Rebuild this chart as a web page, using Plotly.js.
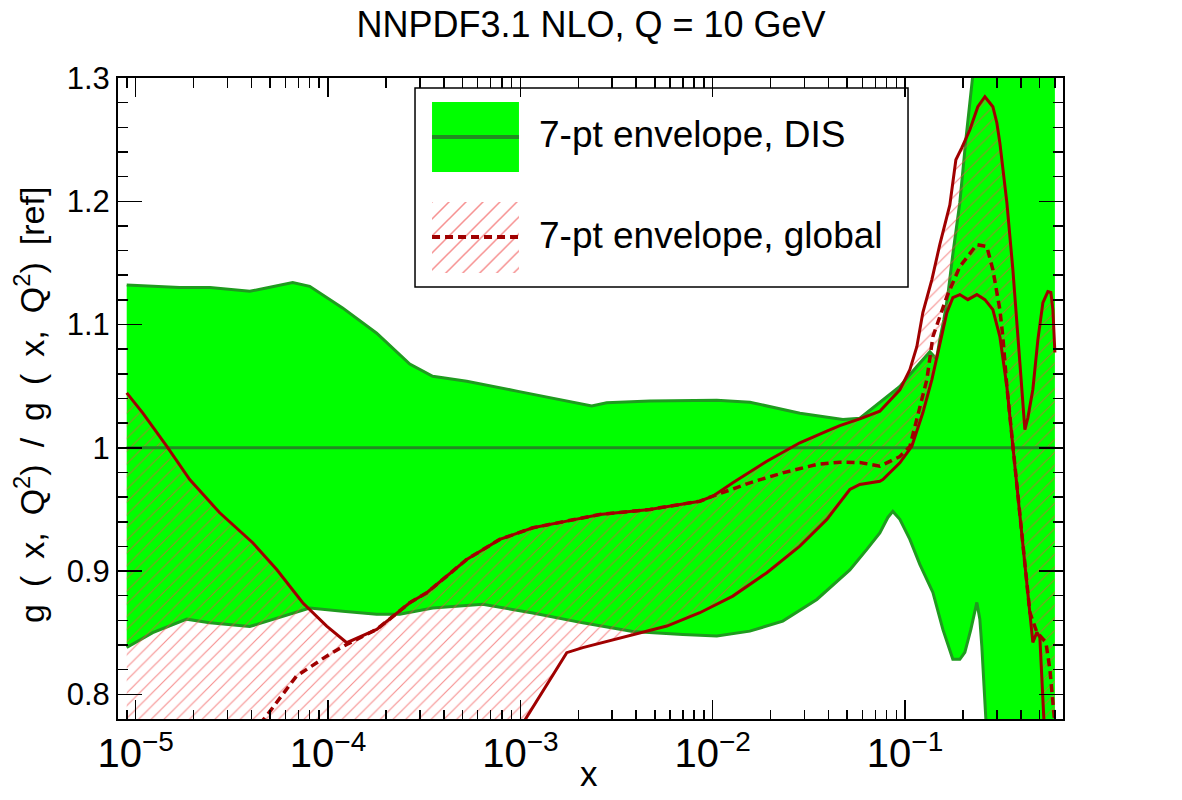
<!DOCTYPE html>
<html>
<head>
<meta charset="utf-8">
<script src="https://cdn.plot.ly/plotly-3.0.1.min.js"></script>
<style>
  html, body { margin: 0; padding: 0; background: #ffffff; }
  #chart { width: 1182px; height: 800px; }
</style>
</head>
<body>
<div id="chart"></div>
<script>
// Gluon ratio g(x,Q^2)/g_ref(x,Q^2) at Q = 10 GeV, 7-point scale-variation envelopes.

// DIS-only fit envelope: upper edge
const disHiX = [8.98e-6, 1.69e-5, 2.43e-5, 3.92e-5, 4.57e-5, 6.55e-5, 8.03e-5, 1.19e-4, 1.79e-4, 2.66e-4,
                3.50e-4, 5.26e-4, 9.58e-4, 2.35e-3, 2.81e-3, 4.71e-3, 1.05e-2, 1.56e-2, 2.84e-2, 4.75e-2,
                5.82e-2, 7.39e-2, 9.39e-2, 0.1151, 0.1345, 0.1458, 0.1516, 0.1591, 0.1669, 0.1771,
                0.1926, 0.207, 0.2224, 0.2333, 0.2447, 0.2826, 0.338, 0.42, 0.601];
const disHiY = [1.132, 1.130, 1.130, 1.127, 1.129, 1.134, 1.131, 1.1135, 1.093, 1.068,
                1.058, 1.054, 1.046, 1.034, 1.0365, 1.038, 1.0386, 1.037, 1.028, 1.023,
                1.024, 1.0365, 1.0497, 1.066, 1.078, 1.072, 1.088, 1.104, 1.124, 1.157,
                1.199, 1.25, 1.299, 1.327, 1.355, 1.42, 1.5, 1.55, 1.6];

// DIS-only fit envelope: lower edge
const disLoX = [8.98e-6, 1.226e-5, 1.842e-5, 2.425e-5, 3.916e-5, 5.813e-5, 8.03e-5, 1.192e-4, 1.791e-4, 2.359e-4,
                3.502e-4, 6.373e-4, 1.160e-3, 2.111e-3, 3.840e-3, 6.99e-3, 1.050e-2, 1.559e-2, 2.313e-2, 3.477e-2,
                5.162e-2, 6.326e-2, 7.391e-2, 8.135e-2, 8.637e-2, 9.393e-2, 0.1059, 0.1193, 0.1395, 0.1572,
                0.1771, 0.1926, 0.2045, 0.2198, 0.2361, 0.2447, 0.2506, 0.263, 0.2826, 0.35, 0.45, 0.601];
const disLoY = [0.838, 0.850, 0.861, 0.858, 0.855, 0.8635, 0.870, 0.8675, 0.865, 0.865,
                0.870, 0.873, 0.866, 0.858, 0.851, 0.8486, 0.8473, 0.8513, 0.8594, 0.877,
                0.901, 0.9176, 0.931, 0.9435, 0.9484, 0.942, 0.9257, 0.9054, 0.8827, 0.8527,
                0.8284, 0.8284, 0.834, 0.8527, 0.8746, 0.861, 0.839, 0.78, 0.72, 0.64, 0.60, 0.58];

// Global fit envelope: upper edge
const glbHiX = [8.98e-6, 1.087e-5, 1.449e-5, 1.909e-5, 2.734e-5, 4.059e-5, 5.409e-5, 7.384e-5, 9.84e-5, 1.251e-4,
                1.791e-4, 2.659e-4, 3.26e-4, 5.26e-4, 7.812e-4, 1.160e-3, 1.742e-3, 2.586e-3, 4.708e-3, 8.567e-3,
                1.001e-2, 1.272e-2, 1.911e-2, 2.836e-2, 3.918e-2, 4.578e-2, 5.817e-2, 7.391e-2, 9.393e-2, 0.1059,
                0.1151, 0.1237, 0.1378, 0.1516, 0.1709, 0.1837, 0.1973, 0.2172, 0.2389, 0.26,
                0.286, 0.2999, 0.311, 0.3223, 0.3382, 0.3634, 0.3859, 0.4048, 0.4196, 0.4348,
                0.4616, 0.4903, 0.5206, 0.5525, 0.5728, 0.5867, 0.601];
const glbHiY = [1.0446, 1.0284, 1.0013, 0.9743, 0.9473, 0.923, 0.9013, 0.8743, 0.8554, 0.8419,
                0.8527, 0.8743, 0.8824, 0.9094, 0.9257, 0.9351, 0.9405, 0.9459, 0.950, 0.9567,
                0.9608, 0.9716, 0.9891, 1.0041, 1.0135, 1.018, 1.0235, 1.0297, 1.047, 1.0634,
                1.082, 1.1097, 1.1365, 1.165, 1.197, 1.2337, 1.2435, 1.258, 1.2767, 1.2848,
                1.2767, 1.2637, 1.2474, 1.2256, 1.1989, 1.1445, 1.0902, 1.0473, 1.0148, 1.0243,
                1.0473, 1.0878, 1.1178, 1.1267, 1.126, 1.1121, 1.0773];

// Global fit envelope: lower edge
const glbLoX = [8.98e-6, 1.0e-4, 5.0e-4, 8.5e-4, 1.054e-3, 1.742e-3, 2.111e-3, 3.840e-3, 5.772e-3, 8.567e-3,
                1.272e-2, 1.911e-2, 2.836e-2, 3.918e-2, 5.162e-2, 5.817e-2, 7.391e-2, 7.662e-2, 9.393e-2, 0.1084,
                0.1237, 0.1378, 0.1516, 0.1649, 0.1771, 0.1926, 0.212, 0.2361, 0.26, 0.286,
                0.311, 0.3223, 0.3382, 0.3634, 0.4097, 0.4453, 0.4616, 0.4843, 0.502, 0.5266,
                0.566, 0.601];
const glbLoY = [0.55, 0.60, 0.70, 0.75, 0.779, 0.8338, 0.8379, 0.8486, 0.8554, 0.8662,
                0.8797, 0.8987, 0.9202, 0.9419, 0.9662, 0.9703, 0.9729, 0.9743, 0.9878, 1.0013,
                1.0284, 1.0554, 1.0838, 1.1097, 1.1218, 1.1243, 1.1202, 1.1243, 1.1202, 1.1121,
                1.0902, 1.0732, 1.0497, 1.0011, 0.92, 0.8665, 0.8422, 0.8503, 0.8462, 0.78,
                0.68, 0.62];

// Global fit central value
const glbCX = [4.414e-5, 4.783e-5, 6.851e-5, 9.83e-5, 1.251e-4, 1.791e-4, 2.659e-4, 3.26e-4, 5.26e-4, 7.812e-4,
               1.160e-3, 1.742e-3, 2.586e-3, 4.708e-3, 8.567e-3, 1.001e-2, 1.559e-2, 2.313e-2, 3.477e-2, 4.578e-2,
               5.817e-2, 7.391e-2, 9.393e-2, 0.1059, 0.1151, 0.1298, 0.1395, 0.1649, 0.1926, 0.2361,
               0.2662, 0.286, 0.311, 0.3223, 0.3382, 0.3634, 0.4097, 0.4453, 0.4843, 0.502,
               0.5395, 0.566, 0.5867, 0.601];
const glbCY = [0.776, 0.7824, 0.8148, 0.831, 0.8405, 0.8527, 0.8743, 0.8824, 0.9094, 0.9257,
               0.9351, 0.9405, 0.9459, 0.950, 0.9567, 0.9608, 0.9716, 0.9797, 0.9865, 0.9883,
               0.9881, 0.9851, 0.9929, 1.0011, 1.0229, 1.0554, 1.0902, 1.1227, 1.147, 1.1649,
               1.1632, 1.1445, 1.1121, 1.0902, 1.0497, 1.0011, 0.92, 0.8665, 0.8503, 0.8478,
               0.8422, 0.8203, 0.7879, 0.776];

// Reference ratio (DIS central value = 1)
const refX = [disHiX[0], disHiX[disHiX.length - 1]];
const refY = [1, 1];

const legendLabels = ['7-pt envelope, DIS', '7-pt envelope, global'];
const titleText = 'NNPDF3.1 NLO, Q = 10 GeV';
const SP = '\u2002';
const yTitleText = ['g', '(', 'x,', 'Q<sup>2</sup>)', '/', 'g', '(', 'x,', 'Q<sup>2</sup>)', '[ref]'].join(SP);

const FONT = 'Liberation Sans, Arial, Helvetica, sans-serif';
const GREEN = '#00ff00';
const GREEN_EDGE = '#1f9b1f';
const GREEN_REF = '#228b22';
const RED = '#a00000';
const HATCH = {shape: '/', fgcolor: 'rgb(240,70,70)', fgopacity: 0.6, bgcolor: 'rgba(0,0,0,0)',
               size: 9, solidity: 0.13, fillmode: 'replace'};

const noHover = {hoverinfo: 'skip', showlegend: false};

const traces = [
  // DIS band fill
  Object.assign({x: disLoX, y: disLoY, mode: 'lines', line: {width: 0}}, noHover),
  Object.assign({x: disHiX, y: disHiY, mode: 'lines', line: {width: 0},
                 fill: 'tonexty', fillcolor: GREEN}, noHover),
  // DIS band edges
  Object.assign({x: disLoX, y: disLoY, mode: 'lines', line: {color: GREEN_EDGE, width: 3}}, noHover),
  Object.assign({x: disHiX, y: disHiY, mode: 'lines', line: {color: GREEN_EDGE, width: 3}}, noHover),
  // Global band hatch
  Object.assign({x: glbLoX, y: glbLoY, mode: 'lines', line: {width: 0}}, noHover),
  Object.assign({x: glbHiX, y: glbHiY, mode: 'lines', line: {width: 0},
                 fill: 'tonexty', fillcolor: 'rgba(0,0,0,0)', fillpattern: HATCH}, noHover),
  // Reference line at 1
  Object.assign({x: refX, y: refY, mode: 'lines', line: {color: GREEN_REF, width: 3}}, noHover),
  // Global band edges and central value
  Object.assign({x: glbHiX, y: glbHiY, mode: 'lines', line: {color: RED, width: 3}}, noHover),
  Object.assign({x: glbLoX, y: glbLoY, mode: 'lines', line: {color: RED, width: 3}}, noHover),
  Object.assign({x: glbCX, y: glbCY, mode: 'lines', line: {color: RED, width: 3.5, dash: '8px,5px'}}, noHover),
  // Hatched key of the legend, drawn in its own small frame
  Object.assign({x: [0, 1, 1, 0, 0], y: [0, 0, 1, 1, 0], xaxis: 'x2', yaxis: 'y2', mode: 'lines',
                 line: {width: 0}, fill: 'toself', fillcolor: 'rgba(0,0,0,0)',
                 fillpattern: Object.assign({}, HATCH, {size: 12})}, noHover)
];

// Legend frame geometry (paper coordinates)
const LEG = {x0: 0.3143, x1: 0.836, y0: 0.674, y1: 0.9844};
const KEY = {x0: 0.3323, x1: 0.4243};
const KEY1 = {y0: 0.8534, y1: 0.9626, yc: 0.908};
const KEY2 = {y0: 0.6958, y1: 0.8066, yc: 0.752};
const TXT = {x: 0.4434, y1: 0.9111, y2: 0.755};

const layout = {
  width: 1182,
  height: 800,
  margin: {l: 118, r: 119, t: 78, b: 81},
  paper_bgcolor: '#ffffff',
  plot_bgcolor: 'rgba(0,0,0,0)',
  font: {family: FONT, color: '#000000'},
  showlegend: false,
  title: {text: titleText, font: {size: 36, family: FONT, color: '#000'},
          x: 0.5, xanchor: 'center', y: 0.97, yanchor: 'middle'},
  xaxis: {
    type: 'log', range: [-5.092, -0.179], dtick: 1, exponentformat: 'power',
    ticks: 'inside', ticklen: 19, tickwidth: 1.5, tickcolor: '#000',
    showline: true, linecolor: '#000', linewidth: 2, mirror: 'ticks',
    showgrid: false, zeroline: false,
    tickfont: {size: 32, family: FONT, color: '#000'},
    minor: {ticks: 'inside', ticklen: 9.5, tickwidth: 1.5, tickcolor: '#000', dtick: 'D1', showgrid: false}
  },
  yaxis: {
    range: [0.78, 1.3], dtick: 0.1, tick0: 0,
    ticks: 'inside', ticklen: 24, tickwidth: 1.5, tickcolor: '#000',
    showline: true, linecolor: '#000', linewidth: 2, mirror: 'ticks',
    showgrid: false, zeroline: false,
    tickfont: {size: 31, family: FONT, color: '#000'},
    minor: {ticks: 'inside', ticklen: 10, tickwidth: 1.5, tickcolor: '#000', dtick: 0.02, showgrid: false}
  },
  xaxis2: {domain: [KEY.x0, KEY.x1], anchor: 'y2', range: [0, 1], visible: false, fixedrange: true},
  yaxis2: {domain: [KEY2.y0, KEY2.y1], anchor: 'x2', range: [0, 1], visible: false, fixedrange: true},
  shapes: [
    {type: 'rect', xref: 'paper', yref: 'paper', x0: LEG.x0, x1: LEG.x1, y0: LEG.y0, y1: LEG.y1,
     line: {color: '#000', width: 1.5}, fillcolor: 'rgba(0,0,0,0)', layer: 'above'},
    {type: 'rect', xref: 'paper', yref: 'paper', x0: KEY.x0, x1: KEY.x1, y0: KEY1.y0, y1: KEY1.y1,
     line: {width: 0}, fillcolor: GREEN, layer: 'above'},
    {type: 'line', xref: 'paper', yref: 'paper', x0: KEY.x0, x1: KEY.x1, y0: KEY1.yc, y1: KEY1.yc,
     line: {color: GREEN_REF, width: 4}, layer: 'above'},
    {type: 'line', xref: 'paper', yref: 'paper', x0: KEY.x0, x1: KEY.x1, y0: KEY2.yc, y1: KEY2.yc,
     line: {color: RED, width: 4, dash: '8px,5px'}, layer: 'above'}
  ],
  annotations: [
    {xref: 'paper', yref: 'paper', x: TXT.x, y: TXT.y1, xanchor: 'left', yanchor: 'middle',
     text: legendLabels[0], showarrow: false, font: {size: 37, family: FONT, color: '#000'}},
    {xref: 'paper', yref: 'paper', x: TXT.x, y: TXT.y2, xanchor: 'left', yanchor: 'middle',
     text: legendLabels[1], showarrow: false, font: {size: 37, family: FONT, color: '#000'}},
    {xref: 'paper', yref: 'paper', x: -0.093, y: 0.49, xanchor: 'center', yanchor: 'middle',
     textangle: -90, text: yTitleText, showarrow: false, font: {size: 34, family: FONT, color: '#000'}},
    {xref: 'paper', yref: 'paper', x: 0.4984, y: -0.0858, xanchor: 'center', yanchor: 'middle',
     text: 'x', showarrow: false, font: {size: 35, family: FONT, color: '#000'}}
  ]
};

Plotly.newPlot('chart', traces, layout, {staticPlot: true, displayModeBar: false});
</script>
</body>
</html>
